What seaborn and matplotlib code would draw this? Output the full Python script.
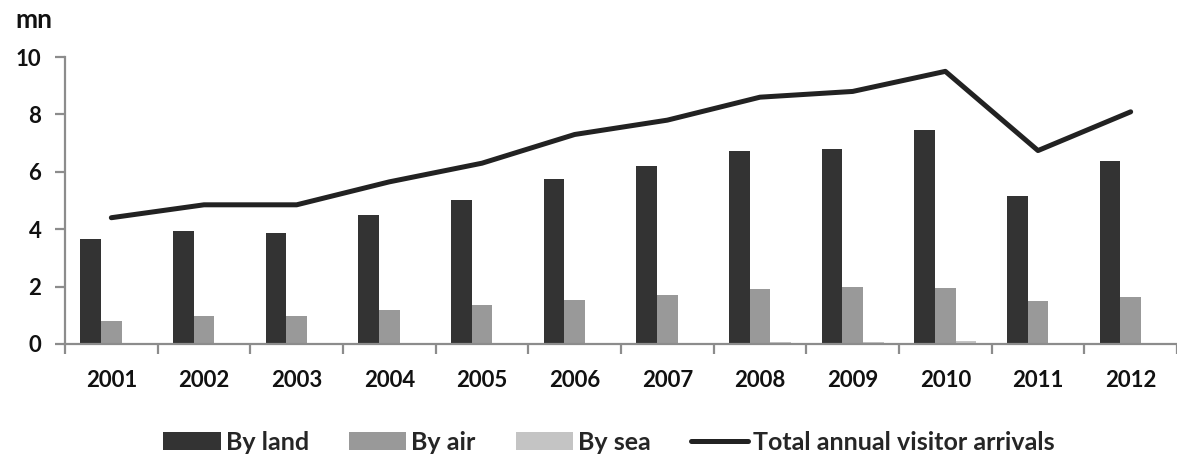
import matplotlib
matplotlib.use("Agg")
import matplotlib.pyplot as plt
from matplotlib import font_manager
import seaborn as sns
import pandas as pd
import numpy as np
from matplotlib.patches import Patch
from matplotlib.lines import Line2D
from matplotlib.ticker import FixedLocator

years = ["2001", "2002", "2003", "2004", "2005", "2006",
         "2007", "2008", "2009", "2010", "2011", "2012"]
by_land = [3.65, 3.92, 3.88, 4.5, 5.02, 5.75, 6.2, 6.72, 6.8, 7.45, 5.15, 6.37]
by_air = [0.8, 0.97, 0.99, 1.2, 1.35, 1.55, 1.7, 1.9, 1.97, 1.95, 1.5, 1.63]
by_sea = [0.01, 0.01, 0.02, 0.02, 0.03, 0.04, 0.05, 0.08, 0.08, 0.1, 0.03, 0.03]
total = [4.4, 4.85, 4.85, 5.65, 6.3, 7.3, 7.8, 8.6, 8.8, 9.5, 6.74, 8.09]
series_names = ["By land", "By air", "By sea"]
line_name = "Total annual visitor arrivals"
colors = ["#333333", "#999999", "#c4c4c4"]
line_color = "#222222"

sns.set_theme(style="white")
plt.rcParams['font.family'] = ['Lato', 'DejaVu Sans']
plt.rcParams['font.weight'] = 'bold'

available = {f.name for f in font_manager.fontManager.ttflist}
if "Liberation Sans Narrow" in available:
    tick_family, tick_size = ["Liberation Sans Narrow", "DejaVu Sans"], 19
else:
    tick_family, tick_size = ["Lato", "DejaVu Sans"], 16

df = pd.DataFrame({
    "year": years * 3,
    "mode": [series_names[0]] * 12 + [series_names[1]] * 12 + [series_names[2]] * 12,
    "value": by_land + by_air + by_sea,
})

fig = plt.figure(figsize=(11.77, 4.58), dpi=100)
ax = fig.add_axes([65 / 1177, 1 - 344 / 458, (1177 - 65) / 1177, (344 - 57) / 458])

sns.barplot(data=df, x="year", y="value", hue="mode", hue_order=series_names,
            palette=colors, width=0.67, gap=0, saturation=1, ax=ax, legend=False,
            edgecolor="none")
sns.pointplot(x=years, y=total, color=line_color, marker="", linewidth=3.6,
              ax=ax, errorbar=None)

ax.set_xlim(-0.5, 11.5)
ax.set_ylim(0, 10)
ax.set_yticks([0, 2, 4, 6, 8, 10])
ax.set_xlabel("")
ax.set_ylabel("")

for s in ["top", "right"]:
    ax.spines[s].set_visible(False)
for s in ["left", "bottom"]:
    ax.spines[s].set_color("#8c8c8c")
    ax.spines[s].set_linewidth(1.6)

ax.xaxis.set_minor_locator(FixedLocator(np.arange(-0.5, 12, 1.0)))
ax.tick_params(axis="x", which="major", length=0, pad=19, labelsize=tick_size)
ax.tick_params(axis="x", which="minor", length=7, width=1.6, color="#8c8c8c", direction="out", bottom=True)
ax.tick_params(axis="y", which="major", length=7, width=1.6, color="#8c8c8c", direction="out",
               left=True, pad=10, labelsize=tick_size)
for lab in ax.get_xticklabels() + ax.get_yticklabels():
    lab.set_fontweight("bold")
    lab.set_family(tick_family)
    lab.set_color("#111111")

fig.text(15 / 1177, 1 - 20 / 458, "mn", fontsize=19, fontweight="bold",
         color="#111111", va="center", ha="left")

handles = [Patch(facecolor=c, edgecolor="none") for c in colors]
handles.append(Line2D([0], [0], color=line_color, linewidth=3.6))
fig.legend(handles, series_names + [line_name], loc="center",
           bbox_to_anchor=(609 / 1177, 1 - 442 / 458), ncol=4, frameon=False,
           prop={"weight": "bold", "size": 18}, handlelength=2.3,
           handleheight=0.7, handletextpad=0.2, columnspacing=1.6)

fig.savefig("out.png", dpi=100)
